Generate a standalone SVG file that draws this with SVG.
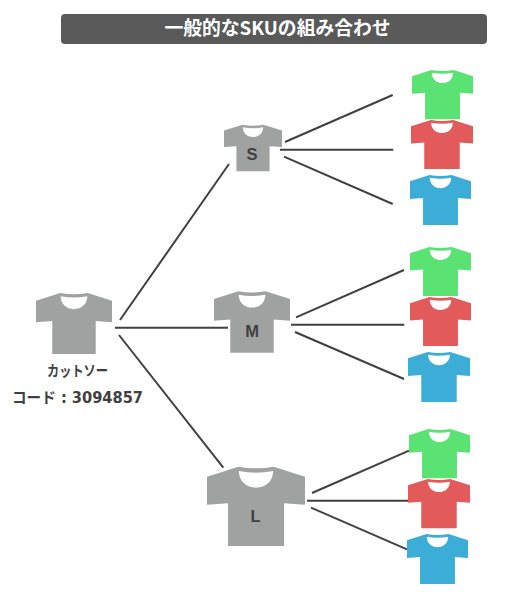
<svg xmlns="http://www.w3.org/2000/svg" width="508" height="592" viewBox="0 0 508 592">
<style>
.ln{stroke:#404040;stroke-width:2;fill:none}
.lb{font-family:"DejaVu Sans","Noto Sans CJK JP",sans-serif;font-weight:700;fill:#404040;text-anchor:middle}
.sz{font-family:"Liberation Sans",Arial,sans-serif;font-weight:700;font-size:16.500px;fill:#404040;text-anchor:middle}
.cj{font-family:"Noto Sans CJK JP",sans-serif;font-weight:700;fill:#404040;text-anchor:middle}
.g{fill:#a0a2a1}.gn{fill:#5ae272}.rd{fill:#e25a5a}.bl{fill:#3cadd6}
</style>
<defs>
<symbol id="shirt" viewBox="0 0 100 100" preserveAspectRatio="none" overflow="visible">
<path d="M32 0L0 12.600V48L21.400 46V100H78.600V46L100 48V12.600L68 0Q50 4 32 0Z"/>
<path fill="#fff" d="M32.500 5.500Q50 9.500 67.500 5.500C67.500 18 60 26.500 50 26.500C40 26.500 32.500 18 32.500 5.500Z"/>
</symbol>
</defs>
<g id="title">
<rect x="61" y="14" width="426" height="30" rx="4" fill="#595959"/>
<text x="277.500" y="35" font-size="18.800" font-family="'Noto Sans CJK JP',sans-serif" font-weight="700" fill="#fff" text-anchor="middle">一般的なSKUの組み合わせ</text>
</g>
<g id="connectors">
<path class="ln" d="M120 320L229 164M115 327.700H228M119 335L223.300 467.700"/>
<path class="ln" d="M285 142L392.700 95M280 149.700H393.300M284 156.700L392.700 204"/>
<path class="ln" d="M296 317.300L404 270M291 324.700H404.300M295 332L404 379"/>
<path class="ln" d="M312 493L409 450.700M307 500.700H408M311 507.700L407 549.300"/>
</g>
<g id="root"><use href="#shirt" class="g" x="36" y="293" width="76" height="61"/>
<text class="cj" x="77.500" y="376" font-size="14.500" textLength="61" lengthAdjust="spacingAndGlyphs">カットソー</text>
<text class="lb" x="77.500" y="403" font-size="15" textLength="131" lengthAdjust="spacingAndGlyphs">コード : 3094857</text></g>
<g id="size-s"><use href="#shirt" class="g" x="224" y="124.700" width="58" height="46.600"/><text class="sz" x="252" y="160">S</text></g>
<g id="size-m"><use href="#shirt" class="g" x="214" y="291.300" width="76" height="61.400"/><text class="sz" x="252" y="337">M</text></g>
<g id="size-l"><use href="#shirt" class="g" x="207" y="466.700" width="98" height="79.300"/><text class="sz" x="255.500" y="522">L</text></g>
<g id="s-green"><use href="#shirt" class="gn" x="412" y="70" width="61" height="49.300"/></g>
<g id="s-red"><use href="#shirt" class="rd" x="411" y="120" width="62" height="49"/></g>
<g id="s-blue"><use href="#shirt" class="bl" x="410" y="175" width="61" height="50"/></g>
<g id="m-green"><use href="#shirt" class="gn" x="410" y="247" width="61" height="49"/></g>
<g id="m-red"><use href="#shirt" class="rd" x="410" y="297" width="61" height="49"/></g>
<g id="m-blue"><use href="#shirt" class="bl" x="408" y="352" width="62" height="50"/></g>
<g id="l-green"><use href="#shirt" class="gn" x="409" y="429" width="61" height="49.300"/></g>
<g id="l-red"><use href="#shirt" class="rd" x="408" y="479" width="62" height="49.300"/></g>
<g id="l-blue"><use href="#shirt" class="bl" x="407" y="534" width="61" height="50"/></g>
</svg>
